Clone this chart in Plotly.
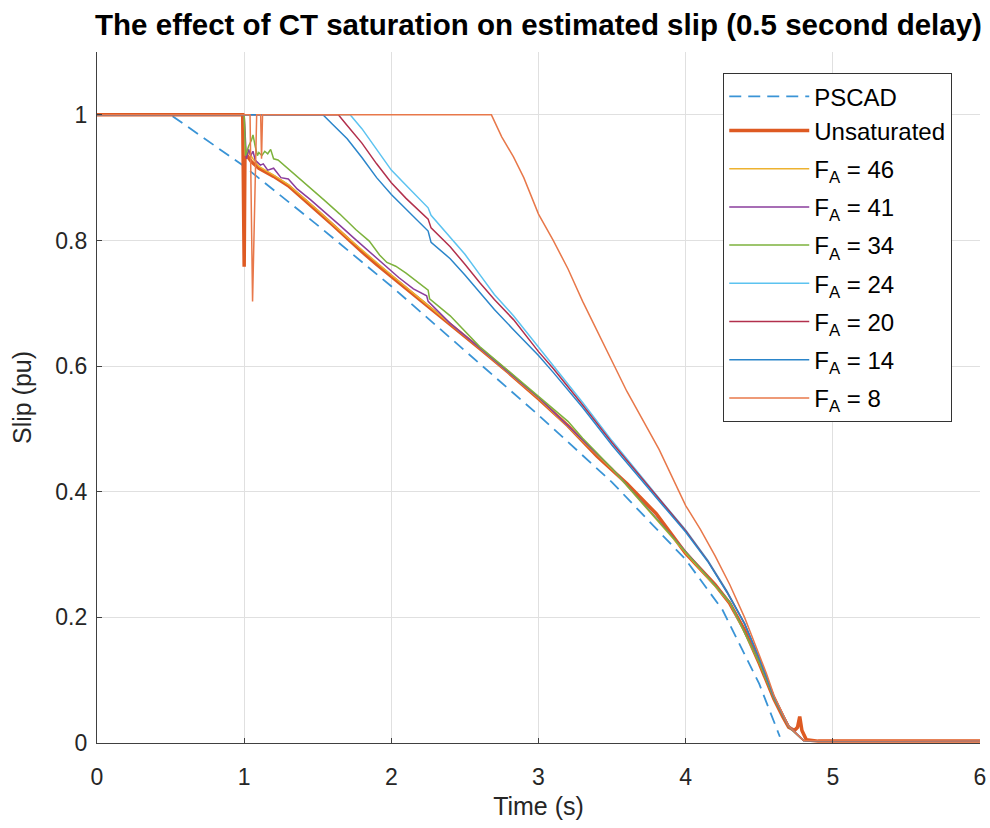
import plotly.graph_objects as go

# PSCAD reference slip
t_pscad = [0, 0.5, 1.0, 1.5, 2.0, 2.5, 3.0, 3.5, 4.0, 4.25, 4.5, 4.64]
s_pscad = [1.0, 1.0, 0.918, 0.824, 0.727, 0.625, 0.522, 0.415, 0.292, 0.212, 0.094, 0.01]

# unsaturated CT
t_unsat = [0, 0.99, 1.0, 1.005, 1.02, 1.05, 1.1, 1.2, 1.3, 1.4, 1.5, 1.6, 1.7, 1.8, 1.9, 2.0,
           2.2, 2.4, 2.6, 2.8, 3.0, 3.2, 3.4, 3.6, 3.8, 4.0, 4.1, 4.2, 4.3, 4.4, 4.5, 4.6,
           4.66, 4.7, 4.74, 4.76, 4.775, 4.79, 4.82, 4.9, 6.0]
s_unsat = [1.0, 1.0, 0.758, 0.93, 0.935, 0.925, 0.915, 0.902, 0.887, 0.867, 0.846, 0.825, 0.803, 0.782, 0.762, 0.743,
           0.705, 0.667, 0.628, 0.589, 0.548, 0.505, 0.456, 0.413, 0.365, 0.302, 0.278, 0.252, 0.222, 0.18, 0.127, 0.07,
           0.042, 0.025, 0.02, 0.025, 0.042, 0.02, 0.005, 0.003, 0.003]

t_46 = [0, 1.0, 1.01, 1.03, 1.06, 1.1, 1.2, 1.3, 1.5, 1.7, 2.0, 2.5, 3.0, 3.5, 4.0, 4.3, 4.5, 4.6, 4.7, 4.8, 6.0]
s_46 = [1.0, 1.0, 0.935, 0.94, 0.93, 0.918, 0.904, 0.889, 0.848, 0.805, 0.745, 0.648, 0.549, 0.436, 0.303, 0.223,
        0.128, 0.071, 0.026, 0.004, 0.003]

t_41 = [0, 1.0, 1.015, 1.03, 1.045, 1.06, 1.075, 1.09, 1.11, 1.13, 1.16, 1.2, 1.25, 1.3, 1.36, 1.45, 1.55, 1.65,
        1.75, 1.85, 1.95, 2.05, 2.15, 2.24, 2.25, 2.4, 2.6, 3.0, 3.5, 4.0, 4.3, 4.5, 4.6, 4.7, 4.8, 6.0]
s_41 = [1.0, 1.0, 0.93, 0.945, 0.935, 0.942, 0.928, 0.925, 0.92, 0.922, 0.912, 0.915, 0.9, 0.898, 0.882, 0.865,
        0.845, 0.824, 0.803, 0.782, 0.761, 0.741, 0.723, 0.712, 0.703, 0.668, 0.629, 0.55, 0.437, 0.305, 0.224,
        0.129, 0.071, 0.026, 0.004, 0.003]

t_34 = [0, 1.0, 1.01, 1.03, 1.05, 1.06, 1.075, 1.09, 1.1, 1.12, 1.14, 1.16, 1.18, 1.2, 1.23, 1.26, 1.3, 1.38,
        1.46, 1.54, 1.65, 1.76, 1.85, 1.92, 1.97, 2.03, 2.1, 2.18, 2.25, 2.26, 2.4, 2.6, 2.8, 3.0, 3.1, 3.2, 3.3,
        3.5, 4.0, 4.3, 4.5, 4.6, 4.7, 4.8, 6.0]
s_34 = [1.0, 1.0, 0.935, 0.95, 0.96, 0.968, 0.95, 0.935, 0.94, 0.935, 0.942, 0.938, 0.945, 0.93, 0.928, 0.922,
        0.914, 0.897, 0.882, 0.865, 0.842, 0.817, 0.799, 0.777, 0.765, 0.759, 0.748, 0.733, 0.721, 0.707, 0.68,
        0.631, 0.592, 0.553, 0.532, 0.512, 0.485, 0.437, 0.304, 0.224, 0.128, 0.071, 0.026, 0.004, 0.003]

t_24 = [0, 1.0, 1.72, 1.8, 1.9, 2.0, 2.1, 2.2, 2.25, 2.27, 2.4, 2.5, 2.6, 2.7, 2.83, 3.0, 3.1, 3.2, 3.3, 3.5,
        3.7, 3.85, 4.0, 4.15, 4.28, 4.4, 4.5, 4.6, 4.7, 4.8, 6.0]
s_24 = [1.0, 1.0, 1.0, 0.978, 0.945, 0.912, 0.888, 0.864, 0.852, 0.84, 0.805, 0.778, 0.746, 0.714, 0.68, 0.63,
        0.601, 0.572, 0.542, 0.481, 0.423, 0.381, 0.339, 0.291, 0.242, 0.19, 0.135, 0.074, 0.027, 0.004, 0.003]

t_20 = [0, 1.0, 1.64, 1.7, 1.8, 1.9, 2.0, 2.1, 2.2, 2.25, 2.27, 2.4, 2.5, 2.6, 2.7, 2.83, 3.0, 3.1, 3.2, 3.3,
        3.5, 3.7, 3.85, 4.0, 4.15, 4.28, 4.4, 4.5, 4.6, 4.7, 4.8, 6.0]
s_20 = [1.0, 1.0, 1.0, 0.983, 0.955, 0.922, 0.892, 0.867, 0.845, 0.834, 0.82, 0.79, 0.762, 0.733, 0.706, 0.674,
        0.623, 0.596, 0.567, 0.538, 0.478, 0.421, 0.38, 0.338, 0.29, 0.241, 0.19, 0.135, 0.074, 0.027, 0.004, 0.003]

t_14 = [0, 1.0, 1.535, 1.6, 1.7, 1.8, 1.9, 2.0, 2.1, 2.2, 2.25, 2.27, 2.4, 2.5, 2.6, 2.7, 2.83, 3.0, 3.1, 3.2,
        3.3, 3.5, 3.7, 3.85, 4.0, 4.15, 4.28, 4.4, 4.5, 4.6, 4.7, 4.8, 6.0]
s_14 = [1.0, 1.0, 1.0, 0.985, 0.962, 0.932, 0.9, 0.873, 0.85, 0.828, 0.815, 0.797, 0.771, 0.745, 0.718, 0.69,
        0.658, 0.617, 0.59, 0.562, 0.534, 0.474, 0.418, 0.377, 0.336, 0.289, 0.24, 0.19, 0.135, 0.074, 0.027,
        0.004, 0.003]

t_8 = [0, 1.04, 1.057, 1.085, 1.112, 1.118, 1.125, 2.68, 2.75, 2.83, 2.9, 3.0, 3.1, 3.2, 3.3, 3.42, 3.6, 3.82,
       4.0, 4.1, 4.2, 4.3, 4.4, 4.5, 4.55, 4.6, 4.7, 4.8, 6.0]
s_8 = [1.0, 1.0, 0.703, 1.0, 1.0, 0.93, 1.0, 1.0, 0.965, 0.933, 0.9, 0.842, 0.8, 0.755, 0.703, 0.645, 0.56, 0.467,
       0.378, 0.34, 0.298, 0.252, 0.2, 0.14, 0.11, 0.076, 0.027, 0.004, 0.003]

FONT = "Liberation Sans, Arial, Helvetica, sans-serif"

fig = go.Figure()

fig.add_trace(go.Scatter(x=t_pscad, y=s_pscad, name="PSCAD", mode="lines", legendgroup="ref",
                         line=dict(color="#3A94D6", width=1.8, dash="12px,7px")))
fig.add_trace(go.Scatter(x=t_unsat, y=s_unsat, name="Unsaturated", mode="lines", legendgroup="ref",
                         line=dict(color="#DE5A22", width=3.5)))

saturated = [
    ("46", t_46, s_46, "#EDB230"),
    ("41", t_41, s_41, "#8A3C9C"),
    ("34", t_34, s_34, "#7DB23C"),
    ("24", t_24, s_24, "#5CC3F0"),
    ("20", t_20, s_20, "#B2304C"),
    ("14", t_14, s_14, "#2A85CA"),
    ("8", t_8, s_8, "#E8784A"),
]
for fa, t, s, c in saturated:
    fig.add_trace(go.Scatter(x=t, y=s, name="F<sub>A</sub> = " + fa, mode="lines", legendgroup="fa" + fa,
                             line=dict(color=c, width=1.5)))

fig.update_layout(
    width=990, height=828,
    margin=dict(l=97, r=10, t=52, b=85),
    paper_bgcolor="white", plot_bgcolor="white",
    font=dict(family=FONT, size=23, color="#262626"),
    title=dict(text="<b>The effect of CT saturation on estimated slip (0.5 second delay)</b>",
               x=0.5, xref="paper", xanchor="center", y=0.97, yanchor="middle",
               font=dict(family=FONT, size=29.5, color="#000000")),
    xaxis=dict(range=[0, 6], dtick=1, showgrid=True, gridcolor="#E0E0E0", gridwidth=1,
               showline=True, linecolor="#404040", linewidth=1.2, ticks="inside", ticklen=5,
               tickcolor="#404040", zeroline=False, automargin=False, ticklabelstandoff=13,
               title=dict(text="Time (s)", font=dict(size=25), standoff=8)),
    yaxis=dict(range=[0, 1.1], tickvals=[0, 0.2, 0.4, 0.6, 0.8, 1.0],
               ticktext=["0", "0.2", "0.4", "0.6", "0.8", "1"],
               showgrid=True, gridcolor="#E0E0E0", gridwidth=1,
               showline=True, linecolor="#404040", linewidth=1.2, ticks="inside", ticklen=5,
               tickcolor="#404040", zeroline=False, automargin=False, ticklabelstandoff=4,
               title=dict(text="Slip (pu)", font=dict(size=25), standoff=16)),
    legend=dict(x=0.709, y=0.9696, xanchor="left", yanchor="top",
                bgcolor="white", bordercolor="#333333", borderwidth=1.2,
                font=dict(family=FONT, size=24, color="#000000"),
                itemwidth=80, tracegroupgap=4),
    showlegend=True,
)

# drop the default 8px page margin so the 990x828 figure fills the window exactly
fig.write_html("out.html", config={"displayModeBar": False},
               post_script="document.body.style.margin='0';document.body.style.overflow='hidden';")
